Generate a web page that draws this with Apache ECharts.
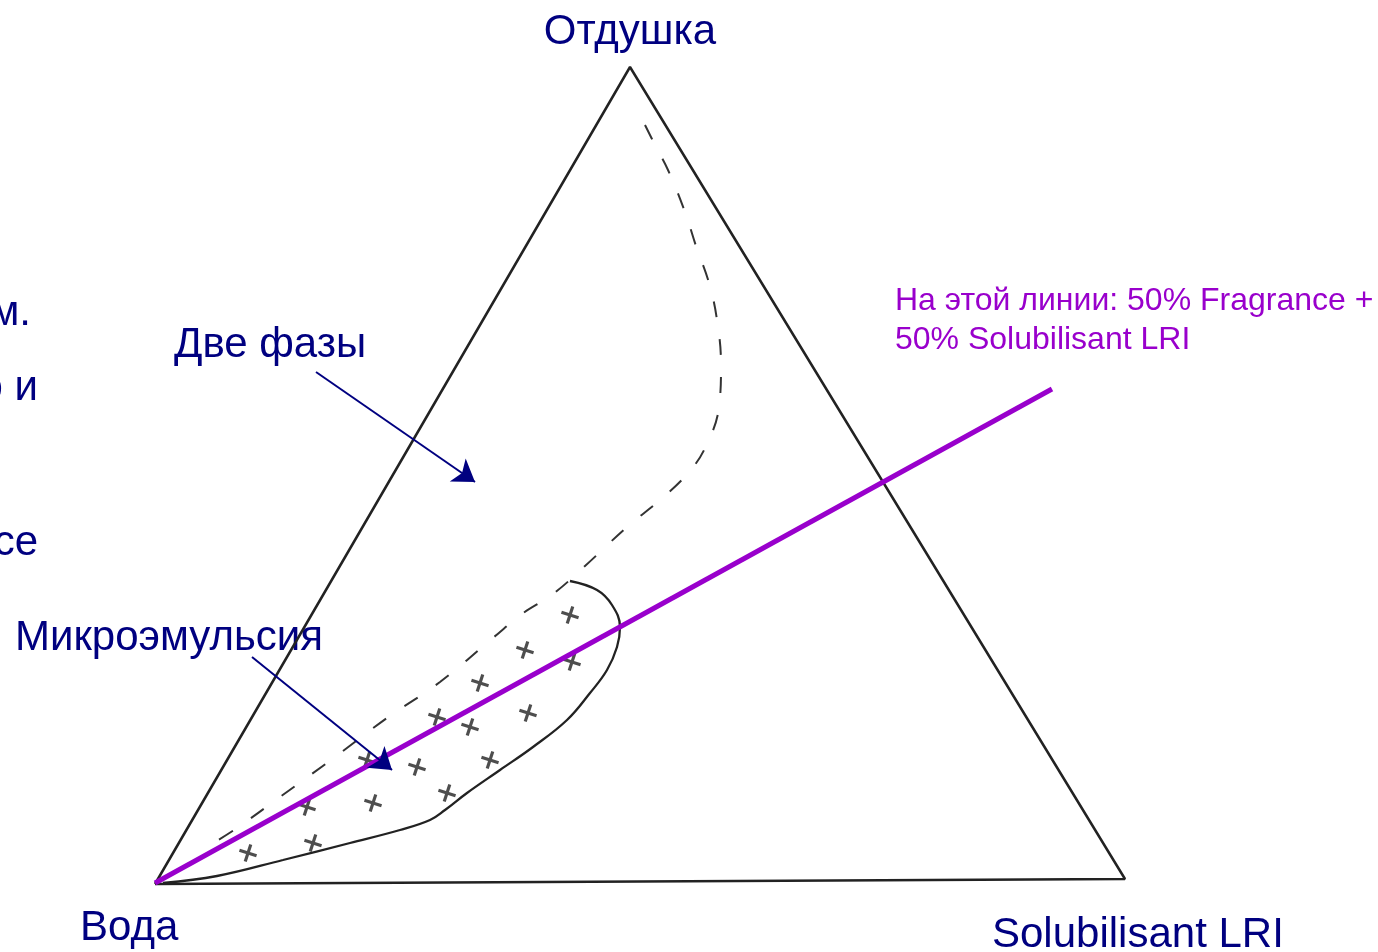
<!DOCTYPE html>
<html>
<head>
<meta charset="utf-8">
<script src="https://cdn.jsdelivr.net/npm/echarts@6/dist/echarts.min.js"></script>
<style>
  html, body { margin: 0; padding: 0; background: #fff; }
  #container { width: 1378px; height: 952px; }
</style>
</head>
<body>
<div id="container"></div>
<script>
var triangle = [[155, 884], [630, 67], [1125, 879], [155, 884]];

// 50% Fragrance + 50% Solubilisant LRI line
var dilutionLine = [[155, 883], [1052, 389]];

// dashed boundary of the two-phase region
var twoPhaseBorder = [
  [645, 125], [655, 145], [668, 170], [685, 212], [696, 246], [709, 283],
  [717, 320], [721, 365], [719, 407], [706, 446], [689, 472], [660, 500],
  [627, 527], [585, 566], [553, 594], [522, 614], [494, 637], [440, 682],
  [387, 718], [335, 757], [280, 797], [237, 828], [215, 842]
];

// solid boundary of the microemulsion region
var microBorder = [
  [570, 581], [597, 590], [612, 605], [620, 627], [617, 647], [607, 670],
  [590, 693], [567, 720], [533, 747], [500, 770], [467, 793], [445, 810],
  [430, 820], [400, 830], [350, 843], [283, 860], [217, 876], [163, 883]
];

// "+" marks inside the microemulsion
var crosses = [
  [570, 615], [525, 650], [480, 683], [437, 717], [572, 662], [528, 713],
  [470, 727], [417, 767], [490, 760], [373, 803], [447, 793], [307, 807],
  [313, 843], [248, 853], [367, 760]
];

// callout arrows
var arrows = [
  [[316, 372], [475, 482]],
  [[252, 657], [392, 770]]
];

var navy = '#000080';
var purple = '#9900cc';
var ink = '#222222';
var font = '"Liberation Sans", Arial, sans-serif';

var dom = document.getElementById('container');
var myChart = echarts.init(dom);

function label(text, x, y, align, size, color) {
  return {
    type: 'text',
    x: x,
    y: y,
    silent: true,
    style: {
      text: text,
      align: align,
      verticalAlign: 'middle',
      fontSize: size,
      fontFamily: font,
      fill: color
    }
  };
}

var option = {
  backgroundColor: '#ffffff',
  animation: false,
  grid: { left: 0, right: 0, top: 0, bottom: 0 },
  xAxis: { type: 'value', min: 0, max: 1378, show: false },
  yAxis: { type: 'value', min: 0, max: 952, inverse: true, show: false },
  graphic: [
    label('Отдушка', 630, 32, 'center', 42, navy),
    label('Две фазы', 174, 345, 'left', 42, navy),
    label('Микроэмульсия', 15, 638, 'left', 42, navy),
    label('Вода', 80, 928, 'left', 42, navy),
    label('Solubilisant LRI', 992, 935, 'left', 42, navy),
    label('м.', 31, 313, 'right', 42, navy),
    label('о и', 38, 388, 'right', 42, navy),
    label('се', 38, 543, 'right', 42, navy),
    label('На этой линии: 50% Fragrance +', 895, 301, 'left', 32, purple),
    label('50% Solubilisant LRI', 895, 340, 'left', 32, purple)
  ],
  series: [
    {
      type: 'line',
      data: triangle,
      symbol: 'none',
      silent: true,
      lineStyle: { color: ink, width: 2.5 },
      z: 2
    },
    {
      type: 'line',
      data: twoPhaseBorder,
      smooth: 0.4,
      symbol: 'none',
      silent: true,
      lineStyle: { color: '#333', width: 2, type: [16, 22] },
      z: 2
    },
    {
      type: 'line',
      data: microBorder,
      smooth: 0.4,
      symbol: 'none',
      silent: true,
      lineStyle: { color: ink, width: 2.3 },
      z: 2
    },
    {
      type: 'scatter',
      data: crosses,
      silent: true,
      symbol: 'path://M-1.4,-8L1.4,-8L1.4,-1.4L8,-1.4L8,1.4L1.4,1.4L1.4,8L-1.4,8L-1.4,1.4L-8,1.4L-8,-1.4L-1.4,-1.4Z',
      symbolSize: 18,
      symbolRotate: -18,
      itemStyle: { color: ink },
      z: 3
    },
    {
      type: 'line',
      data: dilutionLine,
      symbol: 'none',
      silent: true,
      lineStyle: { color: purple, width: 5 },
      z: 4
    },
    {
      type: 'lines',
      coordinateSystem: 'cartesian2d',
      silent: true,
      symbol: ['none', 'arrow'],
      symbolSize: 21,
      lineStyle: { color: navy, width: 2, opacity: 1 },
      data: arrows.map(function (a) { return { coords: a }; }),
      z: 5
    }
  ]
};

myChart.setOption(option);
window.onresize = myChart.resize;
</script>
</body>
</html>
